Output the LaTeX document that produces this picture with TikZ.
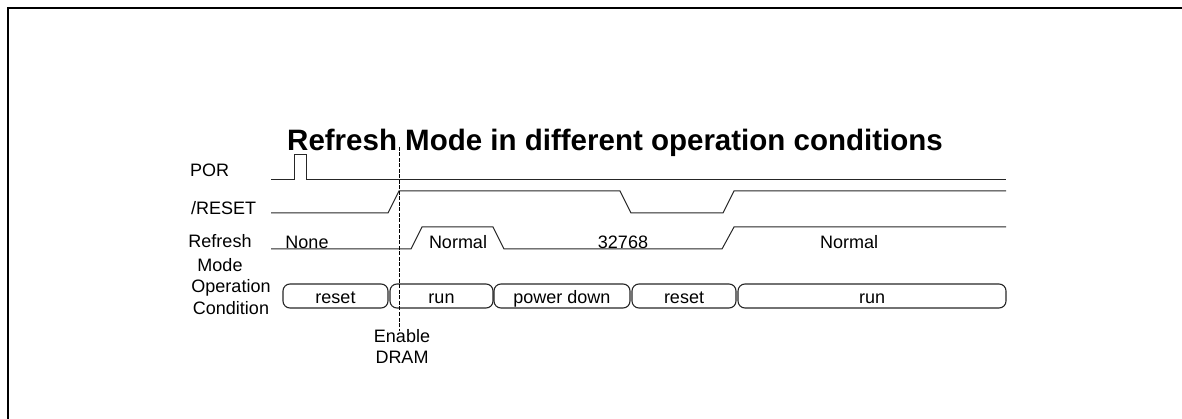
\documentclass[tikz,border=0pt]{standalone}
\usepackage{fontspec}
\setmainfont{Liberation Sans}
\begin{document}
\begin{tikzpicture}[x=1pt,y=-1pt,
  lbl/.style={font=\fontsize{18}{20}\selectfont, inner sep=0pt},
  sig/.style={line width=1pt, draw=black!85},
  opbox/.style={draw=black!85, line width=1.1pt, rounded corners=7pt, minimum height=24pt, inner sep=0pt,
     font=\fontsize{18}{20}\selectfont, text height=16pt, text depth=2pt},
  ttl/.style={font=\fontsize{29.5}{32}\selectfont\bfseries, inner sep=0pt}
]
\useasboundingbox (0,0) rectangle (1182,419);
% frame
\draw[line width=2.6pt, line join=miter] (8,419) -- (8,8) -- (1182,8);
% title
\node[ttl, anchor=base] (title) at (615,151) {Refresh Mode in different operation conditions};
% row labels
\node[lbl, anchor=base west] (lpor) at (190,177) {POR};
\node[lbl, anchor=base west] (lrst) at (191,215) {/RESET};
\node[lbl, anchor=base] (lref) at (220,248) {Refresh};
\node[lbl, anchor=base] (lmode) at (220,272) {Mode};
\node[lbl, anchor=base] (lop) at (231,293) {Operation};
\node[lbl, anchor=base] (lcond) at (231,315) {Condition};
% POR
\draw[sig] (271,180) -- (294,180) -- (294,155) -- (306,155) -- (306,180) -- (1006,180);
% /RESET
\draw[sig] (271,213) -- (388,213) -- (399,191) -- (620,191) -- (631,213) -- (723,213) -- (734,191) -- (1006,191);
% Refresh mode
\draw[sig] (271,249) -- (411,249) -- (422,227) -- (493,227) -- (504,249) -- (722,249) -- (734,227) -- (1006,227);
\node[lbl, anchor=base] (tnone) at (307,249) {None};
\node[lbl, anchor=base] (tnorm1) at (458,249) {Normal};
\node[lbl, anchor=base] (t32) at (623,249) {32768};
\node[lbl, anchor=base] (tnorm2) at (849,249) {Normal};
% operation condition
\node[opbox, minimum width=105pt] (op1) at (335.5,296) {reset};
\node[opbox, minimum width=103pt] (op2) at (441.5,296) {run};
\node[opbox, minimum width=136pt] (op3) at (562,296) {power down};
\node[opbox, minimum width=104pt] (op4) at (684,296) {reset};
\node[opbox, minimum width=268pt] (op5) at (872,296) {run};
% enable DRAM marker
\node[lbl, anchor=base] (en1) at (402,342) {Enable};
\node[lbl, anchor=base] (en2) at (402,363) {DRAM};
\coordinate (dtop) at (399.5,147);
\coordinate (dbot) at (399.5,331);
\draw[line width=0.8pt, dash pattern=on 4pt off 1.5pt] (dtop) -- (dbot);
\end{tikzpicture}
\end{document}
